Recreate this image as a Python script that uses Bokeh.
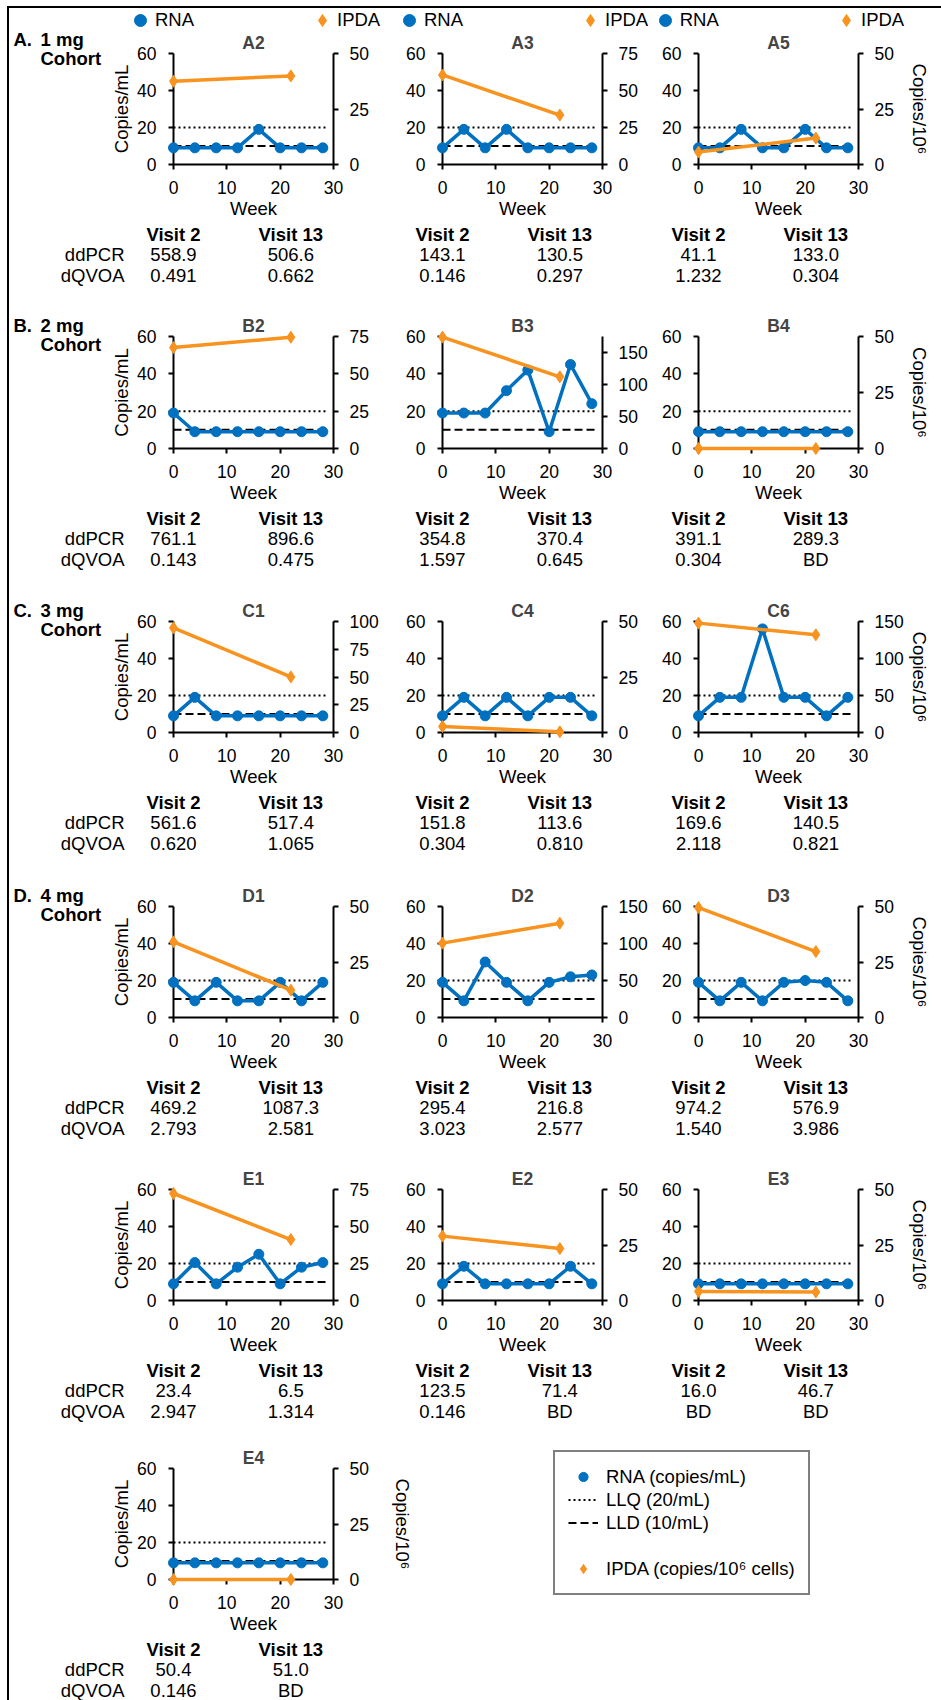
from bokeh.plotting import figure
from bokeh.models import Range1d, LinearAxis, FixedTicker, Legend, LegendItem, Title
from bokeh.layouts import row, column
from bokeh.core.properties import value
from bokeh.embed import file_html
from bokeh.resources import INLINE

FONT = "Liberation Sans"
BLUE = "#0070C0"
ORANGE = "#F7931E"

# ---------------- data ----------------
rna_weeks = [0, 4, 8, 12, 16, 20, 24, 28]
ipda_weeks = [0, 22]
llq_value = 20
lld_value = 10
limit_weeks = [0, 28.5]
x_ticks = [0, 10, 20, 30]
left_ticks = [0, 20, 40, 60]
visit_headers = ["Visit 2", "Visit 13"]
row_names = ["ddPCR", "dQVOA"]

rna_A2 = [9, 9, 9, 9, 19, 9, 9, 9]
rna_A3 = [9, 19, 9, 19, 9, 9, 9, 9]
rna_A5 = [9, 9, 19, 9, 9, 19, 9, 9]
rna_B2 = [19, 9, 9, 9, 9, 9, 9, 9]
rna_B3 = [19, 19, 19, 31, 42, 9, 45, 24]
rna_B4 = [9, 9, 9, 9, 9, 9, 9, 9]
rna_C1 = [9, 19, 9, 9, 9, 9, 9, 9]
rna_C4 = [9, 19, 9, 19, 9, 19, 19, 9]
rna_C6 = [9, 19, 19, 56, 19, 19, 9, 19]
rna_D1 = [19, 9, 19, 9, 9, 19, 9, 19]
rna_D2 = [19, 9, 30, 19, 9, 19, 22, 23]
rna_D3 = [19, 9, 19, 9, 19, 20, 19, 9]
rna_E1 = [9, 20.5, 9, 18, 25, 9, 18, 20.5]
rna_E2 = [9, 18.5, 9, 9, 9, 9, 18.5, 9]
rna_E3 = [9, 9, 9, 9, 9, 9, 9, 9]
rna_E4 = [9, 9, 9, 9, 9, 9, 9, 9]

ipda_A2 = [37.5, 39.9]
ipda_A3 = [60.5, 33.4]
ipda_A5 = [5.6, 11.9]
ipda_B2 = [67.6, 74.5]
ipda_B3 = [174, 112]
ipda_B4 = [0, 0]
ipda_C1 = [94.3, 50.1]
ipda_C4 = [2.7, 0.3]
ipda_C6 = [147.8, 132]
ipda_D1 = [34.1, 12.3]
ipda_D2 = [100.5, 127.5]
ipda_D3 = [49.5, 29.7]
ipda_E1 = [72.3, 41.2]
ipda_E2 = [29, 23.4]
ipda_E3 = [4.1, 3.8]
ipda_E4 = [0, 0]

ddpcr_A2 = ["558.9", "506.6"]; dqvoa_A2 = ["0.491", "0.662"]
ddpcr_A3 = ["143.1", "130.5"]; dqvoa_A3 = ["0.146", "0.297"]
ddpcr_A5 = ["41.1", "133.0"]; dqvoa_A5 = ["1.232", "0.304"]
ddpcr_B2 = ["761.1", "896.6"]; dqvoa_B2 = ["0.143", "0.475"]
ddpcr_B3 = ["354.8", "370.4"]; dqvoa_B3 = ["1.597", "0.645"]
ddpcr_B4 = ["391.1", "289.3"]; dqvoa_B4 = ["0.304", "BD"]
ddpcr_C1 = ["561.6", "517.4"]; dqvoa_C1 = ["0.620", "1.065"]
ddpcr_C4 = ["151.8", "113.6"]; dqvoa_C4 = ["0.304", "0.810"]
ddpcr_C6 = ["169.6", "140.5"]; dqvoa_C6 = ["2.118", "0.821"]
ddpcr_D1 = ["469.2", "1087.3"]; dqvoa_D1 = ["2.793", "2.581"]
ddpcr_D2 = ["295.4", "216.8"]; dqvoa_D2 = ["3.023", "2.577"]
ddpcr_D3 = ["974.2", "576.9"]; dqvoa_D3 = ["1.540", "3.986"]
ddpcr_E1 = ["23.4", "6.5"]; dqvoa_E1 = ["2.947", "1.314"]
ddpcr_E2 = ["123.5", "71.4"]; dqvoa_E2 = ["0.146", "BD"]
ddpcr_E3 = ["16.0", "46.7"]; dqvoa_E3 = ["BD", "BD"]
ddpcr_E4 = ["50.4", "51.0"]; dqvoa_E4 = ["0.146", "BD"]

panel_names = ["A2", "A3", "A5", "B2", "B3", "B4", "C1", "C4", "C6",
               "D1", "D2", "D3", "E1", "E2", "E3", "E4"]
panel_rna = [rna_A2, rna_A3, rna_A5, rna_B2, rna_B3, rna_B4, rna_C1, rna_C4, rna_C6,
             rna_D1, rna_D2, rna_D3, rna_E1, rna_E2, rna_E3, rna_E4]
panel_ipda = [ipda_A2, ipda_A3, ipda_A5, ipda_B2, ipda_B3, ipda_B4, ipda_C1, ipda_C4, ipda_C6,
              ipda_D1, ipda_D2, ipda_D3, ipda_E1, ipda_E2, ipda_E3, ipda_E4]
panel_ddpcr = [ddpcr_A2, ddpcr_A3, ddpcr_A5, ddpcr_B2, ddpcr_B3, ddpcr_B4, ddpcr_C1, ddpcr_C4,
               ddpcr_C6, ddpcr_D1, ddpcr_D2, ddpcr_D3, ddpcr_E1, ddpcr_E2, ddpcr_E3, ddpcr_E4]
panel_dqvoa = [dqvoa_A2, dqvoa_A3, dqvoa_A5, dqvoa_B2, dqvoa_B3, dqvoa_B4, dqvoa_C1, dqvoa_C4,
               dqvoa_C6, dqvoa_D1, dqvoa_D2, dqvoa_D3, dqvoa_E1, dqvoa_E2, dqvoa_E3, dqvoa_E4]
right_axis_max = [50, 75, 50, 75, 175, 50, 100, 50, 150, 50, 150, 50, 75, 50, 50, 50]
cohort_labels = [("A.", "1 mg"), ("B.", "2 mg"), ("C.", "3 mg"), ("D.", "4 mg")]

# ---------------- layout (CSS px, content origin at page (9, 8)) ----------------
FH = 111.3
STRIP_H = 22
ROW60 = [41.5, 325.3, 609.7, 894.7, 1178.0, 1457.0]
MBT = 24
MBB = 58
TABLE_LAST = 64
COHORT_W = 95
COL_AXES = [(164, 324), (433, 593), (688.7, 849.2)]
COL_CELLS = [(0, 385), (385, 650), (650, 932)]
E4_CELL = (0, 411)
TOTAL_W = 932
LEG_RNA_X = [131, 400, 655.7]
LEG_IPDA_X = [313, 581, 837]
LEG_Y = 11.5
KEY_LEFT = 544
KEY_BOTTOM = 1584
TICK_FS = "17.5px"
TXT_FS = "18.5px"


def ri(v):
    return int(round(v))


def no_align(f):
    if "frame_align" in f.properties():
        f.frame_align = False
    return f


def right_ticks(rmax):
    step = 25 if rmax <= 100 else 50
    return list(range(0, int(rmax) + 1, step))


def style_axis(ax):
    ax.axis_line_width = 2
    ax.axis_line_color = "black"
    ax.major_tick_line_width = 2
    ax.major_tick_line_color = "black"
    ax.major_tick_out = 5
    ax.major_tick_in = 0
    ax.minor_tick_line_color = None
    ax.major_label_text_font = FONT
    ax.major_label_text_font_size = TICK_FS
    ax.major_label_text_color = "black"
    ax.axis_label_text_font = FONT
    ax.axis_label_text_font_size = TXT_FS
    ax.axis_label_text_font_style = "normal"
    ax.axis_label_text_color = "black"


def blank_fig(w, h, xr, yr, mbt=0, mbb=0):
    f = figure(frame_width=w, frame_height=h - mbt - mbb, min_border=0,
               min_border_top=mbt, min_border_bottom=mbb, x_range=xr, y_range=yr,
               x_axis_type=None, y_axis_type=None, output_backend="svg",
               toolbar_location=None)
    f.outline_line_color = None
    f.background_fill_color = "white"
    f.border_fill_color = "white"
    return no_align(f)


def put_text(f, xs, ys, texts, align="center", bold=False, size=TXT_FS, level="glyph"):
    f.text(x=xs, y=ys, text=texts, text_font=value(FONT), text_font_size=value(size),
           text_font_style=value("bold" if bold else "normal"), text_align=value(align),
           text_baseline=value("middle"), text_color="black", level=level)


def chart_fig(i, cell, axes, top, line60, bottom, left_label, right_label, rs_off):
    rmax = right_axis_max[i]
    axl, axr = axes
    p = figure(frame_width=ri(axr) - ri(axl), frame_height=ri(line60 + FH) - ri(line60),
               min_border_left=ri(axl) - ri(cell[0]), min_border_right=ri(cell[1]) - ri(axr),
               min_border_top=ri(line60) - ri(top),
               min_border_bottom=ri(bottom) - ri(line60 + FH),
               x_range=Range1d(0, 30), y_range=Range1d(0, 60),
               x_axis_type=None, y_axis_type=None,
               output_backend="svg", toolbar_location=None)
    no_align(p)
    p.outline_line_color = None
    p.background_fill_color = "white"
    p.border_fill_color = "white"
    p.extra_y_ranges = {"r": Range1d(0, rmax)}

    xa = LinearAxis(ticker=FixedTicker(ticks=x_ticks))
    style_axis(xa)
    xa.axis_label = "Week"
    xa.major_label_standoff = 11
    xa.axis_label_standoff = 1
    p.add_layout(xa, "below")

    ya = LinearAxis(ticker=FixedTicker(ticks=left_ticks))
    style_axis(ya)
    ya.major_label_standoff = 12
    if left_label:
        ya.axis_label = "Copies/mL"
        ya.axis_label_standoff = 2
    p.add_layout(ya, "left")

    ra = LinearAxis(y_range_name="r", ticker=FixedTicker(ticks=right_ticks(rmax)))
    style_axis(ra)
    ra.major_label_standoff = 11
    if right_label:
        ra.axis_label = "Copies/10\u2076"
        ra.axis_label_standoff = rs_off
    p.add_layout(ra, "right")

    p.line(limit_weeks, [llq_value, llq_value], line_color="black", line_width=2,
           line_dash="2 3")
    p.line(limit_weeks, [lld_value, lld_value], line_color="black", line_width=2,
           line_dash="8 4")
    p.line(rna_weeks, panel_rna[i], line_color=BLUE, line_width=3.5, level="overlay")
    p.scatter(rna_weeks, panel_rna[i], size=10, color=BLUE, level="overlay")
    p.line(ipda_weeks, panel_ipda[i], y_range_name="r", line_color=ORANGE, line_width=3.5,
           level="overlay")
    p.scatter(ipda_weeks, panel_ipda[i], y_range_name="r", marker="diamond",
              size=12, color=ORANGE, level="overlay")

    p.add_layout(Title(text=panel_names[i], align="center", text_font=FONT,
                       text_font_size="17.5px", text_font_style="bold", standoff=1), "above")
    return p


def table_fig(i, cell, axes, top, bottom, line0, with_rows):
    axl, axr = axes
    w = ri(cell[1]) - ri(cell[0])
    h = ri(bottom) - ri(top)
    off = ri(axl) - ri(cell[0])
    ppw = (ri(axr) - ri(axl)) / 30.0
    f = blank_fig(w, h, Range1d(-off / ppw, (w - off) / ppw), Range1d(h, 0))
    base = ri(line0) - ri(top)
    put_text(f, ipda_weeks, [base + 69.5] * 2, visit_headers, bold=True)
    put_text(f, ipda_weeks, [base + 90] * 2, panel_ddpcr[i])
    put_text(f, ipda_weeks, [base + 110.5] * 2, panel_dqvoa[i])
    if with_rows:
        xr = -49 / ppw
        put_text(f, [xr, xr], [base + 90, base + 110.5], row_names, align="right")
    return f


def cohort_fig(r, top, bottom, line60):
    # same border structure as the charts in its row; y measured in px from the figure top
    h = ri(bottom) - ri(top)
    mbt = ri(line60) - ri(top)
    mbb = ri(bottom) - ri(line60 + FH)
    f = blank_fig(COHORT_W, h, Range1d(0, COHORT_W), Range1d(h - mbb, mbt), mbt, mbb)
    a, b = cohort_labels[r]
    y1 = mbt - 11.5
    put_text(f, [4, 31], [y1, y1], [a, b], align="left", bold=True, level="overlay")
    put_text(f, [31], [mbt + 7.5], ["Cohort"], align="left", bold=True, level="overlay")
    return f


def legend_common():
    return dict(border_line_color=None, background_fill_alpha=0, margin=0,
                label_text_font=FONT, label_text_font_size=TXT_FS,
                label_text_color="black")


# ---------------- top legend strip ----------------
# proxy renderers: real data drawn in an empty y window, so only their legend glyphs show
strip = blank_fig(TOTAL_W, STRIP_H, Range1d(0, 30), Range1d(-2, -1))
s_rna = strip.scatter(rna_weeks, rna_A2, size=10, color=BLUE)
s_ipda = strip.scatter(ipda_weeks, ipda_A2, marker="diamond", size=12, color=ORANGE)
g = 30
for c in range(3):
    for cx, lab, rend in ((LEG_RNA_X[c], "RNA", s_rna), (LEG_IPDA_X[c], "IPDA", s_ipda)):
        strip.add_layout(Legend(items=[LegendItem(label=lab, renderers=[rend])],
                                location=(cx - g / 2.0, (STRIP_H - LEG_Y) - g / 2.0),
                                glyph_width=g, glyph_height=g, label_standoff=0, padding=0,
                                **legend_common()))

blocks = [strip]
grid = [[0, 1, 2], [3, 4, 5], [6, 7, 8], [9, 10, 11], [12, 13, 14]]
for r, idxs in enumerate(grid):
    line60 = ROW60[r]
    top = STRIP_H if r == 0 else line60 - MBT
    bottom = line60 + FH + MBB
    next_top = ROW60[r + 1] - MBT
    has_cohort = r < len(cohort_labels)
    charts, tables = [], []
    if has_cohort:
        charts.append(cohort_fig(r, top, bottom, line60))
    for c, i in enumerate(idxs):
        cell = COL_CELLS[c]
        if c == 0 and has_cohort:
            cell = (COHORT_W, cell[1])
        rs_off = 2 if right_axis_max[i] >= 100 else 12
        charts.append(chart_fig(i, cell, COL_AXES[c], top, line60, bottom,
                                c == 0, c == 2, rs_off))
        tables.append(table_fig(i, COL_CELLS[c], COL_AXES[c], bottom, next_top,
                                line60 + FH, c == 0))
    blocks.append(row(*charts))
    blocks.append(row(*tables))

# ---------------- last row: E4 + key ----------------
line60 = ROW60[5]
top = line60 - MBT
bottom = line60 + FH + MBB
end = bottom + TABLE_LAST
p_e4 = chart_fig(15, E4_CELL, COL_AXES[0], top, line60, bottom, True, True, 20)
t_e4 = table_fig(15, E4_CELL, COL_AXES[0], bottom, end, line60 + FH, True)

key_w = TOTAL_W - E4_CELL[1]
key_h = ri(bottom) - ri(top)
key = blank_fig(key_w, key_h, Range1d(0, 30), Range1d(-2, -1))
k_rna = key.scatter(rna_weeks, rna_E4, size=10, color=BLUE)
k_llq = key.line(limit_weeks, [llq_value, llq_value], line_color="black", line_width=2,
                 line_dash="2 3")
k_lld = key.line(limit_weeks, [lld_value, lld_value], line_color="black", line_width=2,
                 line_dash="8 4")
k_gap = key.line(limit_weeks, [lld_value, lld_value], line_alpha=0)
k_ipda = key.scatter(ipda_weeks, ipda_E4, marker="diamond", size=12, color=ORANGE)
kc = legend_common()
kc.update(border_line_color="black", border_line_width=2, background_fill_alpha=1,
          background_fill_color="white")
key.add_layout(Legend(items=[
    LegendItem(label="RNA (copies/mL)", renderers=[k_rna]),
    LegendItem(label="LLQ (20/mL)", renderers=[k_llq]),
    LegendItem(label="LLD (10/mL)", renderers=[k_lld]),
    LegendItem(label=" ", renderers=[k_gap]),
    LegendItem(label="IPDA (copies/10\u2076 cells)", renderers=[k_ipda]),
], location=(KEY_LEFT - E4_CELL[1], key_h - (KEY_BOTTOM - ri(top))),
    glyph_width=30, glyph_height=23, label_height=23, label_standoff=8,
    padding=13, spacing=0, **kc))

blocks.append(row(p_e4, key))
blocks.append(row(t_e4))

layout = column(*blocks, styles={"margin-left": "7px", "margin-top": "6px",
                                 "border-left": "2px solid black",
                                 "border-top": "2px solid black"})

open("out.html", "w").write(file_html(layout, INLINE))
